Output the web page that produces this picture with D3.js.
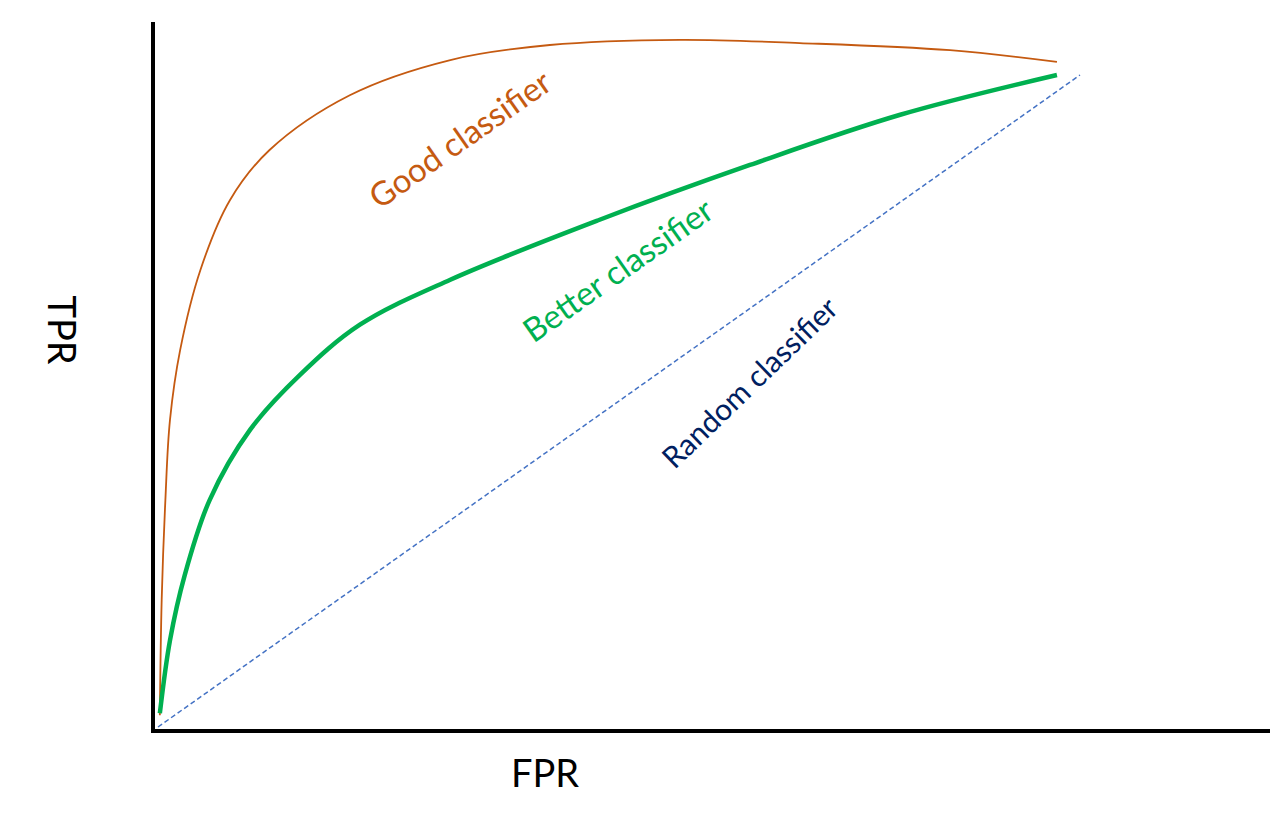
<!DOCTYPE html>
<html><head><meta charset="utf-8">
<script src="https://cdn.jsdelivr.net/npm/d3@7"></script>
<style>body{margin:0;background:#fff}</style></head>
<body><svg id="c" width="1276" height="835"></svg>
<script>
const goodFPR=[0.002,0.004,0.008,0.013,0.024,0.046,0.078,0.121,0.208,0.317,0.425,0.566,0.696,0.859,0.975];
const goodTPR=[0.018,0.195,0.348,0.471,0.578,0.701,0.808,0.885,0.969,1.023,1.046,1.054,1.049,1.038,1.020];
const betterFPR=[0.002,0.013,0.029,0.056,0.100,0.154,0.219,0.317,0.479,0.642,0.805,0.975];
const betterTPR=[0.021,0.133,0.233,0.348,0.456,0.540,0.617,0.686,0.778,0.862,0.939,1.0];
const randomFPR=[0,1];
const randomTPR=[0,1];
const svg=d3.select("#c");
const x=d3.scaleLinear().domain([0,1]).range([158,1080]);
const y=d3.scaleLinear().domain([0,1]).range([727,75]);
const line=d3.line().x(d=>x(d[0])).y(d=>y(d[1])).curve(d3.curveCatmullRom);
const font="Lato, 'Open Sans', sans-serif";
svg.append("path").datum(d3.zip(randomFPR,randomTPR)).attr("d",line).attr("fill","none").attr("stroke","#4472C4").attr("stroke-width",1.5).attr("stroke-dasharray","5,3");
svg.append("path").datum(d3.zip(goodFPR,goodTPR)).attr("d",line).attr("fill","none").attr("stroke","#C55A11").attr("stroke-width",1.8);
svg.append("path").datum(d3.zip(betterFPR,betterTPR)).attr("d",line).attr("fill","none").attr("stroke","#00B050").attr("stroke-width",4.5);
svg.append("line").attr("x1",153).attr("y1",22).attr("x2",153).attr("y2",733).attr("stroke","#000").attr("stroke-width",4);
svg.append("line").attr("x1",151).attr("y1",731).attr("x2",1270).attr("y2",731).attr("stroke","#000").attr("stroke-width",4);
function lab(t,cx,cy,a,c,s){svg.append("text").text(t).attr("transform",`translate(${cx},${cy}) rotate(${a})`).attr("text-anchor","middle").attr("dominant-baseline","middle").attr("fill",c).attr("font-family",font).attr("font-size",s);}
lab("Good classifier",462,142,-35,"#C55A11",33);
lab("Better classifier",620,273,-35,"#00B050",33);
lab("Random classifier",752,385,-44,"#002060",30);
lab("TPR",58,330,90,"#000",38);
lab("FPR",545,777,0,"#000",38);
</script></body></html>
